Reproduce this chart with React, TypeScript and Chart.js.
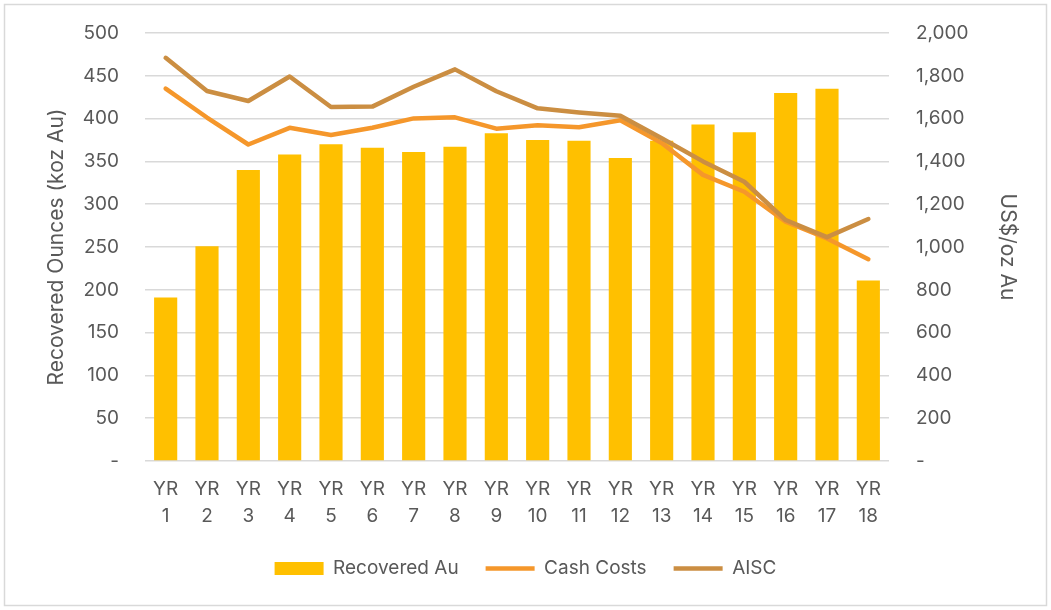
import React, { useEffect, useRef } from "react";
import { Chart, registerables } from "chart.js";

Chart.register(...registerables);

const years = ["1", "2", "3", "4", "5", "6", "7", "8", "9", "10", "11", "12", "13", "14", "15", "16", "17", "18"];
const categories = years.map((y) => ["YR", y]);

const recoveredAu = [191, 251, 340, 358, 370, 366, 361, 367, 383, 375, 374, 354, 374, 393, 384, 430, 435, 211];
const cashCosts = [1740, 1605, 1479, 1557, 1523, 1557, 1601, 1606, 1553, 1569, 1560, 1592, 1486, 1337, 1258, 1118, 1040, 943];
const aisc = [1884, 1729, 1682, 1797, 1654, 1656, 1749, 1830, 1728, 1648, 1629, 1613, 1508, 1400, 1305, 1126, 1046, 1131];

const leftMax = 500;
const leftStep = 50;
const rightMax = 2000;
const rightStep = 200;

const seriesNames = ["Recovered Au", "Cash Costs", "AISC"];
const axisTitles = ["Recovered Ounces (koz Au)", "US$/oz Au"];

const TEXT = "#595959";
const FONT = "Inter, 'Liberation Sans', Arial, sans-serif";

const framePlugin = {
  id: "frame",
  beforeDraw(chart: any) {
    const ctx = chart.ctx;
    ctx.save();
    ctx.strokeStyle = "#d9d9d9";
    ctx.lineWidth = 1.5;
    ctx.strokeRect(4.5, 4.5, chart.width - 9, chart.height - 9);
    ctx.restore();
  },
};

export default function App() {
  const ref = useRef<HTMLCanvasElement>(null);

  useEffect(() => {
    document.body.style.margin = "0";
    const chart = new Chart(ref.current as HTMLCanvasElement, {
      type: "bar",
      data: {
        labels: categories as any,
        datasets: [
          {
            type: "bar",
            label: seriesNames[0],
            data: recoveredAu,
            backgroundColor: "#FFC000",
            borderWidth: 0,
            yAxisID: "y",
            barPercentage: 0.56,
            categoryPercentage: 1,
            order: 10,
          } as any,
          {
            type: "line",
            label: seriesNames[1],
            data: cashCosts,
            borderColor: "#F5972B",
            backgroundColor: "#F5972B",
            borderWidth: 4.5,
            pointRadius: 0,
            borderCapStyle: "round",
            borderJoinStyle: "round",
            tension: 0,
            yAxisID: "y1",
            order: 2,
          },
          {
            type: "line",
            label: seriesNames[2],
            data: aisc,
            borderColor: "#CB8E42",
            backgroundColor: "#CB8E42",
            borderWidth: 4.5,
            pointRadius: 0,
            borderCapStyle: "round",
            borderJoinStyle: "round",
            tension: 0,
            yAxisID: "y1",
            order: 1,
          },
        ],
      },
      options: {
        responsive: false,
        animation: false,
        layout: { padding: { left: 8, right: 8, top: 33, bottom: 22 } },
        plugins: {
          tooltip: { enabled: false },
          legend: {
            position: "bottom",
            labels: {
              color: TEXT,
              font: { family: FONT, size: 19 },
              usePointStyle: true,
              pointStyleWidth: 49,
              boxHeight: 13,
              padding: 27,
              generateLabels: (c: any) => {
                const items = (Chart.defaults.plugins.legend.labels as any).generateLabels(c);
                items.sort((a: any, b: any) => a.datasetIndex - b.datasetIndex);
                return items.map((it: any) => ({
                  ...it,
                  pointStyle: it.datasetIndex === 0 ? "rect" : "line",
                }));
              },
            },
          },
        },
        scales: {
          x: {
            type: "category",
            offset: true,
            grid: { display: false, drawTicks: false },
            border: { display: false },
            ticks: {
              color: TEXT,
              font: { family: FONT, size: 19, lineHeight: 1.42 },
              padding: 15,
              maxRotation: 0,
              autoSkip: false,
            },
            afterFit: (s: any) => {
              s.height = 71;
            },
          },
          y: {
            type: "linear",
            position: "left",
            min: 0,
            max: leftMax,
            grid: {
              color: "#d9d9d9",
              lineWidth: 1.5,
              drawTicks: true,
              tickLength: 26,
              tickColor: "rgba(0,0,0,0)",
            },
            border: { display: false },
            ticks: {
              stepSize: leftStep,
              color: TEXT,
              font: { family: FONT, size: 19 },
              padding: 0,
              callback: (v: any) => (Number(v) === 0 ? "-" : String(v)),
            },
            title: {
              display: true,
              text: axisTitles[0],
              color: TEXT,
              font: { family: FONT, size: 21 },
              padding: { top: 36, bottom: 0 },
            },
            afterFit: (s: any) => {
              s.width = 137;
            },
          },
          y1: {
            type: "linear",
            position: "right",
            min: 0,
            max: rightMax,
            grid: {
              display: true,
              drawOnChartArea: false,
              drawTicks: true,
              tickLength: 27,
              tickColor: "rgba(0,0,0,0)",
            },
            border: { display: false },
            ticks: {
              stepSize: rightStep,
              color: TEXT,
              font: { family: FONT, size: 19 },
              padding: 0,
              callback: (v: any) => (Number(v) === 0 ? "-" : Number(v).toLocaleString("en-US")),
            },
            title: {
              display: true,
              text: axisTitles[1],
              color: TEXT,
              font: { family: FONT, size: 21 },
              padding: { top: 23, bottom: 0 },
            },
            afterFit: (s: any) => {
              s.width = 154;
            },
          },
        },
      },
      plugins: [framePlugin],
    });
    return () => chart.destroy();
  }, []);

  return (
    <div style={{ position: "relative", width: 1051, height: 610 }}>
      <canvas ref={ref} width={1051} height={610} style={{ display: "block", width: 1051, height: 610 }} />
    </div>
  );
}
